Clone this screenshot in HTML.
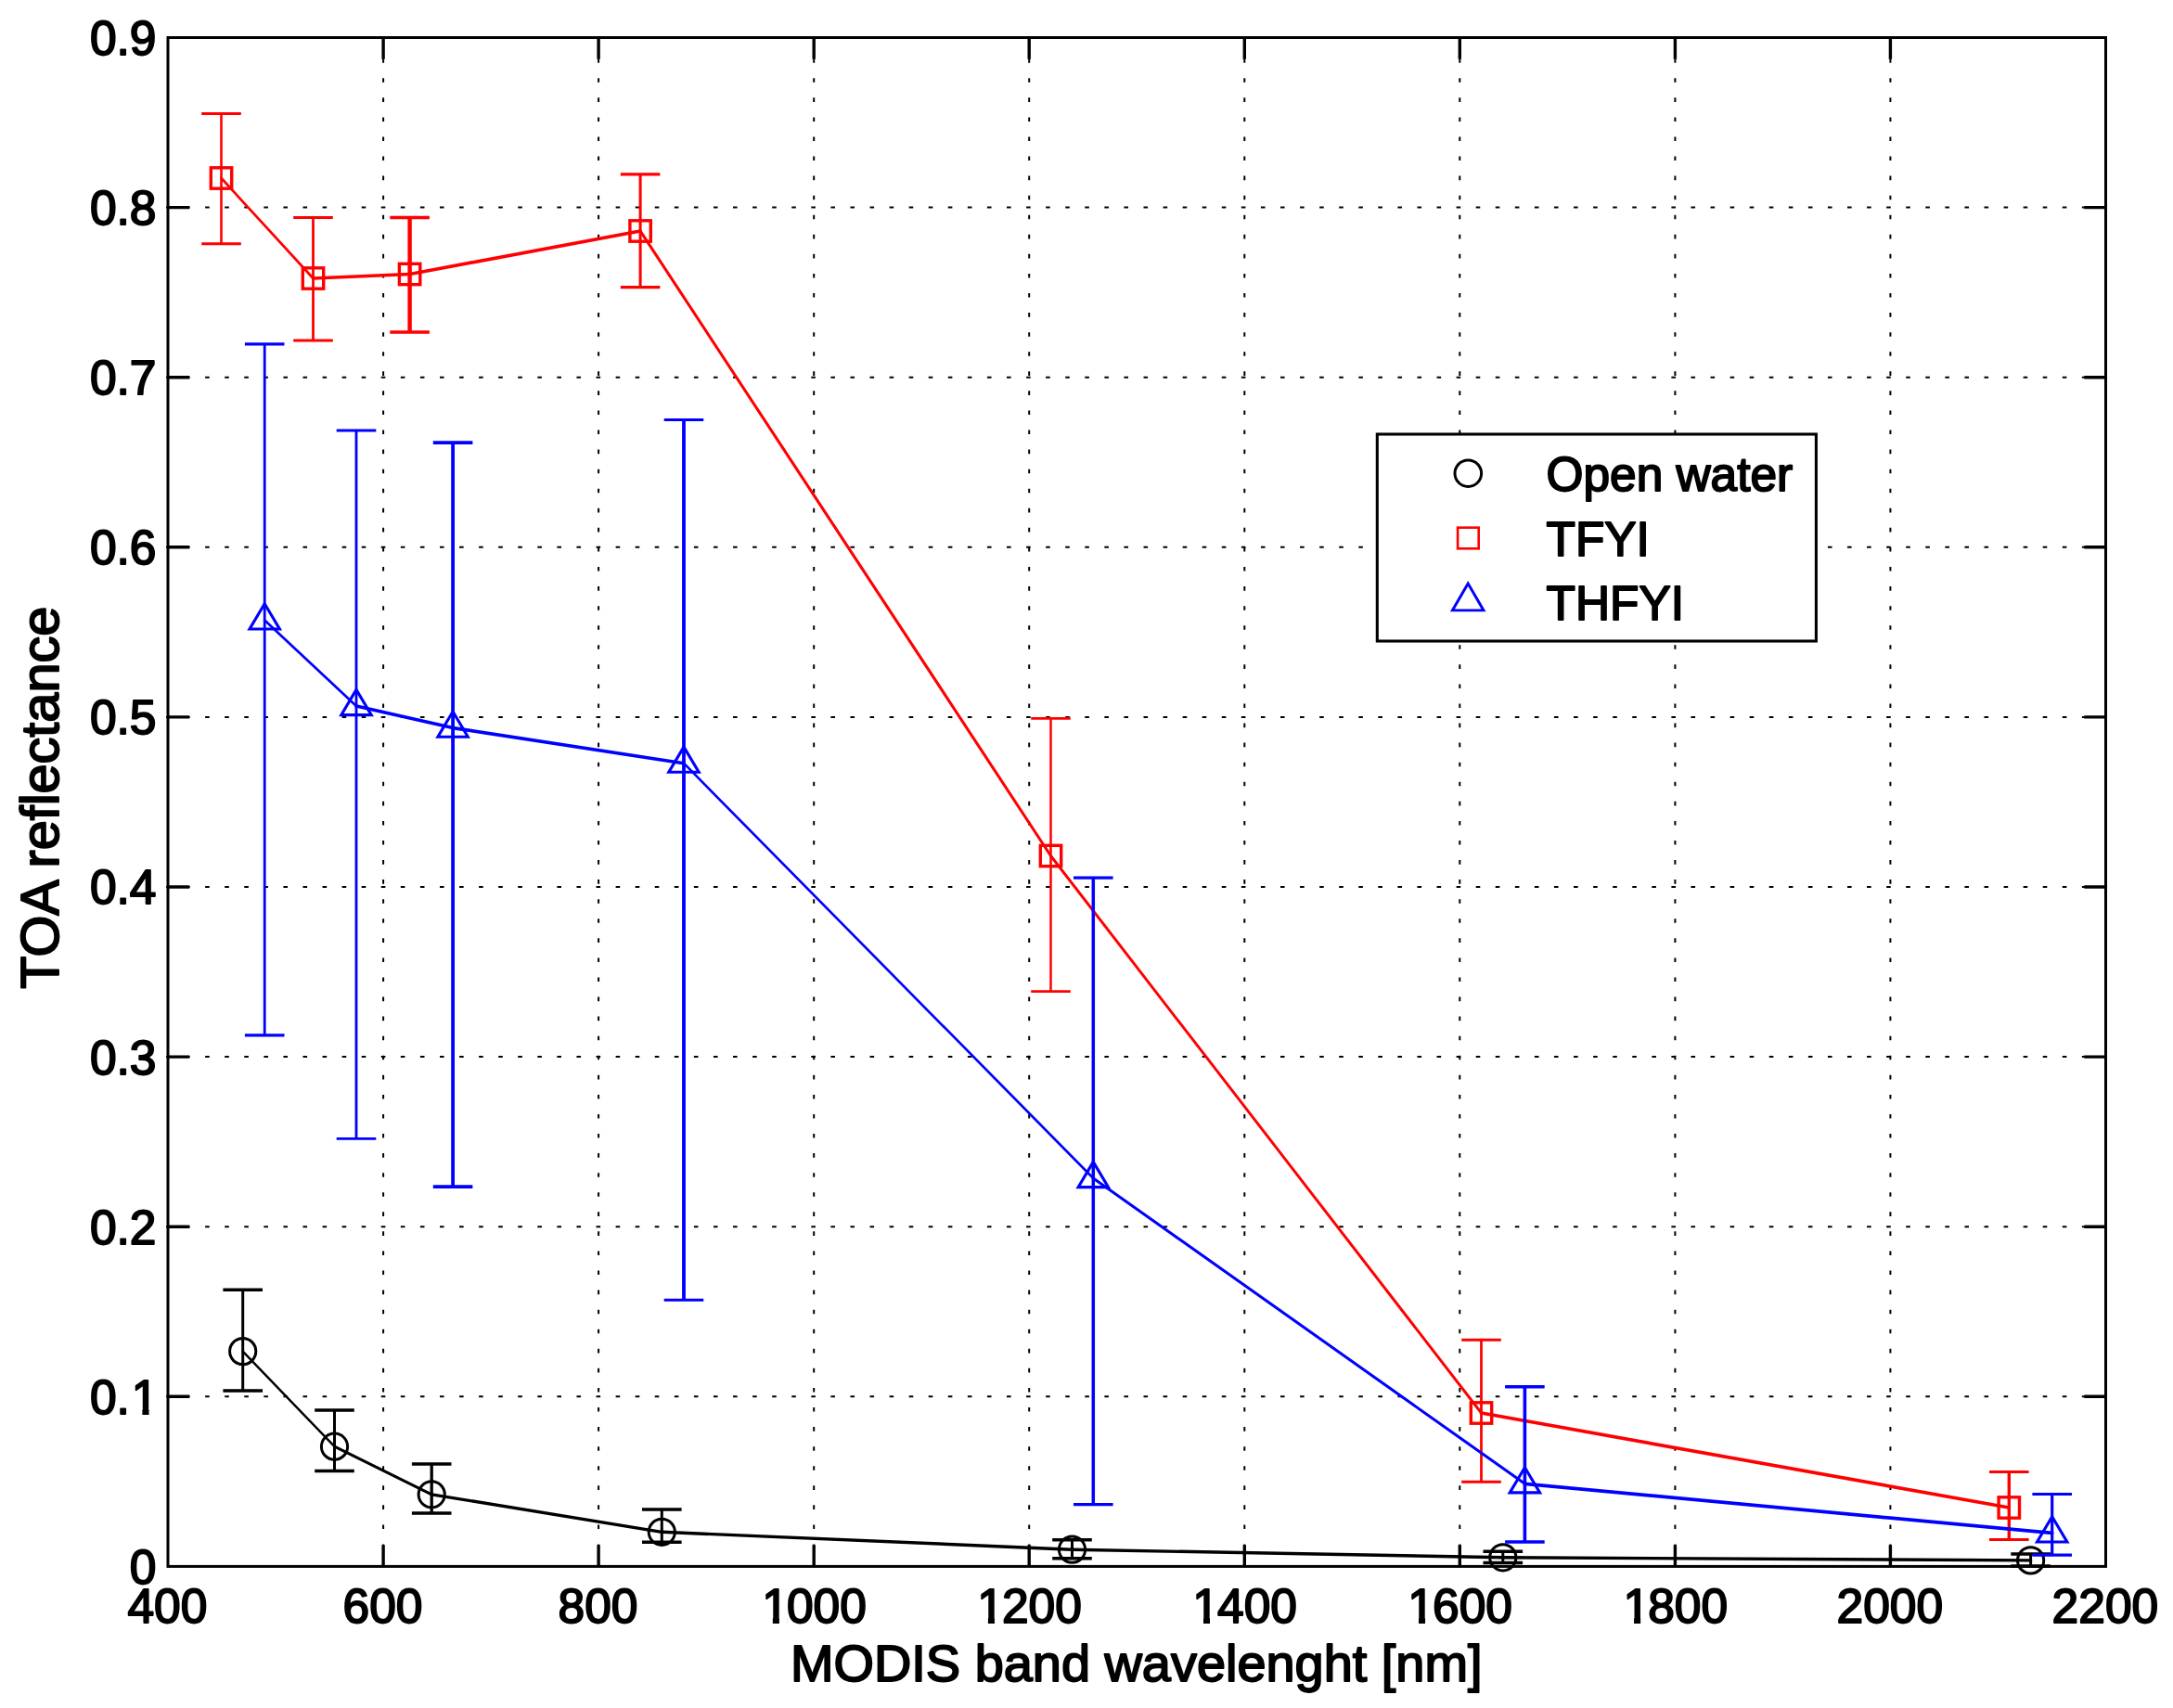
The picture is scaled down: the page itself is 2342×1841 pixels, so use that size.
<!DOCTYPE html>
<html lang="en"><head><meta charset="utf-8"><title>TOA reflectance vs MODIS band wavelength</title>
<style>html,body{margin:0;padding:0;background:#fff;}body{width:2342px;height:1841px;overflow:hidden;}svg{display:block;}text{font-family:"Liberation Sans",Arial,Helvetica,sans-serif;fill:#000;stroke:#000;stroke-width:1.9px;stroke-linejoin:round;}</style></head><body>
<svg width="2342" height="1841" viewBox="0 0 2342 1841">
<rect x="0" y="0" width="2342" height="1841" fill="#fff"/>
<g stroke="#000" stroke-width="2" stroke-dasharray="4.6 16.47" fill="none">
<line x1="413.1" y1="42.1" x2="413.1" y2="1688.4"/>
<line x1="645.1" y1="42.1" x2="645.1" y2="1688.4"/>
<line x1="877.2" y1="42.1" x2="877.2" y2="1688.4"/>
<line x1="1109.2" y1="42.1" x2="1109.2" y2="1688.4"/>
<line x1="1341.3" y1="42.1" x2="1341.3" y2="1688.4"/>
<line x1="1573.3" y1="42.1" x2="1573.3" y2="1688.4"/>
<line x1="1805.4" y1="42.1" x2="1805.4" y2="1688.4"/>
<line x1="2037.4" y1="42.1" x2="2037.4" y2="1688.4"/>
<line x1="179.0" y1="1505.3" x2="2269.5" y2="1505.3"/>
<line x1="179.0" y1="1322.2" x2="2269.5" y2="1322.2"/>
<line x1="179.0" y1="1139.1" x2="2269.5" y2="1139.1"/>
<line x1="179.0" y1="956.0" x2="2269.5" y2="956.0"/>
<line x1="179.0" y1="772.9" x2="2269.5" y2="772.9"/>
<line x1="179.0" y1="589.8" x2="2269.5" y2="589.8"/>
<line x1="179.0" y1="406.7" x2="2269.5" y2="406.7"/>
<line x1="179.0" y1="223.6" x2="2269.5" y2="223.6"/>
</g>
<g stroke="#000" fill="none" stroke-width="3.4">
<line x1="261.7" y1="1456.6" x2="360.5" y2="1559.2" stroke-width="2.45" stroke-linecap="round"/>
<line x1="360.5" y1="1559.2" x2="465.2" y2="1610.8" stroke-width="3.05" stroke-linecap="round"/>
<line x1="465.2" y1="1610.8" x2="713.3" y2="1651.3" stroke-width="3.36" stroke-linecap="round"/>
<line x1="713.3" y1="1651.3" x2="1155.5" y2="1670.2" stroke-width="3.40" stroke-linecap="round"/>
<line x1="1155.5" y1="1670.2" x2="1619.8" y2="1678.8" stroke-width="3.40" stroke-linecap="round"/>
<line x1="1619.8" y1="1678.8" x2="2188.6" y2="1681.9" stroke-width="3.40" stroke-linecap="round"/>
<path stroke-width="3.0" d="M261.7 1390.3V1499.0"/><path stroke-width="3.5" d="M240.4 1390.3H283.0M240.4 1499.0H283.0"/>
<path stroke-width="3.0" d="M360.5 1520.0V1585.5"/><path stroke-width="3.5" d="M339.2 1520.0H381.8M339.2 1585.5H381.8"/>
<path stroke-width="3.3" d="M465.2 1578.0V1631.1"/><path stroke-width="3.5" d="M443.9 1578.0H486.5M443.9 1631.1H486.5"/>
<path stroke-width="3.0" d="M713.3 1626.9V1662.3"/><path stroke-width="3.5" d="M692.0 1626.9H734.6M692.0 1662.3H734.6"/>
<path stroke-width="3.0" d="M1155.5 1659.7V1679.8"/><path stroke-width="3.5" d="M1134.2 1659.7H1176.8M1134.2 1679.8H1176.8"/>
<path stroke-width="3.0" d="M1619.8 1672.3V1684.4"/><path stroke-width="3.5" d="M1598.5 1672.3H1641.1M1598.5 1684.4H1641.1"/>
<path stroke-width="3.0" d="M2188.6 1675.1V1688.0"/><path stroke-width="3.5" d="M2167.3 1675.1H2209.9M2167.3 1688.0H2209.9"/>
</g>
<g stroke="#000" fill="none" stroke-width="3.0">
<circle cx="261.7" cy="1456.6" r="14.1"/>
<circle cx="360.5" cy="1559.2" r="14.1"/>
<circle cx="465.2" cy="1610.8" r="14.1"/>
<circle cx="713.3" cy="1651.3" r="14.1"/>
<circle cx="1155.5" cy="1670.2" r="14.1"/>
<circle cx="1619.8" cy="1678.8" r="14.1"/>
<circle cx="2188.6" cy="1681.9" r="14.1"/>
</g>
<g stroke="#f00" fill="none" stroke-width="3.7">
<line x1="238.5" y1="192.0" x2="337.5" y2="300.0" stroke-width="2.73" stroke-linecap="round"/>
<line x1="337.5" y1="300.0" x2="441.6" y2="295.5" stroke-width="3.70" stroke-linecap="round"/>
<line x1="441.6" y1="295.5" x2="690.1" y2="249.0" stroke-width="3.64" stroke-linecap="round"/>
<line x1="690.1" y1="249.0" x2="1132.5" y2="922.5" stroke-width="3.09" stroke-linecap="round"/>
<line x1="1132.5" y1="922.5" x2="1596.5" y2="1523.0" stroke-width="2.93" stroke-linecap="round"/>
<line x1="1596.5" y1="1523.0" x2="2165.3" y2="1625.0" stroke-width="3.64" stroke-linecap="round"/>
<path stroke-width="2.6" d="M238.5 122.5V262.8"/><path stroke-width="3.0" d="M217.2 122.5H259.8M217.2 262.8H259.8"/>
<path stroke-width="2.8" d="M337.5 234.5V367.0"/><path stroke-width="3.0" d="M316.2 234.5H358.8M316.2 367.0H358.8"/>
<path stroke-width="4.4" d="M441.6 234.5V358.0"/><path stroke-width="3.4" d="M420.3 234.5H462.9M420.3 358.0H462.9"/>
<path stroke-width="3.0" d="M690.1 187.9V309.6"/><path stroke-width="3.4" d="M668.8 187.9H711.4M668.8 309.6H711.4"/>
<path stroke-width="2.5" d="M1132.5 774.3V1068.7"/><path stroke-width="2.8" d="M1111.2 774.3H1153.8M1111.2 1068.7H1153.8"/>
<path stroke-width="2.8" d="M1596.5 1444.3V1597.3"/><path stroke-width="3.0" d="M1575.2 1444.3H1617.8M1575.2 1597.3H1617.8"/>
<path stroke-width="3.4" d="M2165.3 1586.5V1659.6"/><path stroke-width="3.0" d="M2144.0 1586.5H2186.6M2144.0 1659.6H2186.6"/>
</g>
<g stroke="#f00" fill="none" stroke-width="3.4">
<rect x="227.3" y="180.8" width="22.4" height="22.4"/>
<rect x="326.3" y="288.8" width="22.4" height="22.4"/>
<rect x="430.4" y="284.3" width="22.4" height="22.4"/>
<rect x="678.9" y="237.8" width="22.4" height="22.4"/>
<rect x="1121.3" y="911.3" width="22.4" height="22.4"/>
<rect x="1585.3" y="1511.8" width="22.4" height="22.4"/>
<rect x="2154.1" y="1613.8" width="22.4" height="22.4"/>
</g>
<g stroke="#00f" fill="none" stroke-width="3.7">
<line x1="285.2" y1="668.4" x2="384.0" y2="761.0" stroke-width="2.70" stroke-linecap="round"/>
<line x1="384.0" y1="761.0" x2="488.1" y2="784.6" stroke-width="3.61" stroke-linecap="round"/>
<line x1="488.1" y1="784.6" x2="737.0" y2="822.7" stroke-width="3.66" stroke-linecap="round"/>
<line x1="737.0" y1="822.7" x2="1178.3" y2="1270.0" stroke-width="2.63" stroke-linecap="round"/>
<line x1="1178.3" y1="1270.0" x2="1643.4" y2="1599.3" stroke-width="3.02" stroke-linecap="round"/>
<line x1="1643.4" y1="1599.3" x2="2211.7" y2="1652.4" stroke-width="3.68" stroke-linecap="round"/>
<path stroke-width="2.8" d="M285.2 370.9V1115.9"/><path stroke-width="3.4" d="M263.9 370.9H306.5M263.9 1115.9H306.5"/>
<path stroke-width="2.8" d="M384.0 464.0V1227.4"/><path stroke-width="2.8" d="M362.7 464.0H405.3M362.7 1227.4H405.3"/>
<path stroke-width="3.8" d="M488.1 477.1V1279.1"/><path stroke-width="3.6" d="M466.8 477.1H509.4M466.8 1279.1H509.4"/>
<path stroke-width="3.8" d="M737.0 452.5V1401.2"/><path stroke-width="3.0" d="M715.7 452.5H758.3M715.7 1401.2H758.3"/>
<path stroke-width="3.5" d="M1178.3 946.1V1621.7"/><path stroke-width="3.3" d="M1157.0 946.1H1199.6M1157.0 1621.7H1199.6"/>
<path stroke-width="3.6" d="M1643.4 1494.8V1662.0"/><path stroke-width="3.4" d="M1622.1 1494.8H1664.7M1622.1 1662.0H1664.7"/>
<path stroke-width="3.2" d="M2211.7 1610.5V1676.1"/><path stroke-width="3.2" d="M2190.4 1610.5H2233.0M2190.4 1676.1H2233.0"/>
</g>
<g stroke="#00f" fill="none" stroke-width="3.1">
<path d="M285.2 650.8L301.4 678.0H269.0Z"/>
<path d="M384.0 743.4L400.2 770.6H367.8Z"/>
<path d="M488.1 767.0L504.3 794.2H471.9Z"/>
<path d="M737.0 805.1L753.2 832.3H720.8Z"/>
<path d="M1178.3 1252.4L1194.5 1279.6H1162.1Z"/>
<path d="M1643.4 1581.7L1659.6 1608.9H1627.2Z"/>
<path d="M2211.7 1634.8L2227.9 1662.0H2195.5Z"/>
</g>
<g stroke="#000" stroke-width="3.0" fill="none" stroke-linecap="butt">
<rect x="181.0" y="40.5" width="2088.5" height="1647.9"/>
<path stroke-width="3.4" d="M413.1 40.5v23.2M413.1 1688.4v-23.2M645.1 40.5v23.2M645.1 1688.4v-23.2M877.2 40.5v23.2M877.2 1688.4v-23.2M1109.2 40.5v23.2M1109.2 1688.4v-23.2M1341.3 40.5v23.2M1341.3 1688.4v-23.2M1573.3 40.5v23.2M1573.3 1688.4v-23.2M1805.4 40.5v23.2M1805.4 1688.4v-23.2M2037.4 40.5v23.2M2037.4 1688.4v-23.2M181.0 1505.3h23.2M2269.5 1505.3h-23.2M181.0 1322.2h23.2M2269.5 1322.2h-23.2M181.0 1139.1h23.2M2269.5 1139.1h-23.2M181.0 956.0h23.2M2269.5 956.0h-23.2M181.0 772.9h23.2M2269.5 772.9h-23.2M181.0 589.8h23.2M2269.5 589.8h-23.2M181.0 406.7h23.2M2269.5 406.7h-23.2M181.0 223.6h23.2M2269.5 223.6h-23.2"/>
</g>
<defs><clipPath id="one"><path clip-rule="evenodd" d="M-120 -70H220V24H-120ZM0 -5.6H11.7V3H0ZM18.7 -5.6H27.6V3H18.7Z"/></clipPath></defs>
<g font-size="51.5">
<text x="180.4" y="1749.2" text-anchor="middle">400</text>
<text x="412.5" y="1749.2" text-anchor="middle">600</text>
<text x="644.5" y="1749.2" text-anchor="middle">800</text>
<g transform="translate(821.18 1749.2)"><text x="-1.90" y="0" clip-path="url(#one)"><tspan dx="1.9">1</tspan><tspan dx="-1.9">000</tspan></text></g>
<g transform="translate(1053.23 1749.2)"><text x="-1.90" y="0" clip-path="url(#one)"><tspan dx="1.9">1</tspan><tspan dx="-1.9">200</tspan></text></g>
<g transform="translate(1285.29 1749.2)"><text x="-1.90" y="0" clip-path="url(#one)"><tspan dx="1.9">1</tspan><tspan dx="-1.9">400</tspan></text></g>
<g transform="translate(1517.34 1749.2)"><text x="-1.90" y="0" clip-path="url(#one)"><tspan dx="1.9">1</tspan><tspan dx="-1.9">600</tspan></text></g>
<g transform="translate(1749.40 1749.2)"><text x="-1.90" y="0" clip-path="url(#one)"><tspan dx="1.9">1</tspan><tspan dx="-1.9">800</tspan></text></g>
<text x="2036.8" y="1749.2" text-anchor="middle">2000</text>
<text x="2268.9" y="1749.2" text-anchor="middle">2200</text>
<text x="168.5" y="1706.8" text-anchor="end">0</text>
<g transform="translate(141.76 1523.7)"><text x="-44.85" y="0" clip-path="url(#one)"><tspan>0.</tspan><tspan dx="1.9">1</tspan></text></g>
<text x="168.5" y="1340.6" text-anchor="end">0.2</text>
<text x="168.5" y="1157.5" text-anchor="end">0.3</text>
<text x="168.5" y="974.4" text-anchor="end">0.4</text>
<text x="168.5" y="791.3" text-anchor="end">0.5</text>
<text x="168.5" y="608.2" text-anchor="end">0.6</text>
<text x="168.5" y="425.1" text-anchor="end">0.7</text>
<text x="168.5" y="242.0" text-anchor="end">0.8</text>
<text x="168.5" y="58.9" text-anchor="end">0.9</text>
</g>
<text x="1224.7" y="1811.8" font-size="55.9" text-anchor="middle">MODIS band wavelenght [nm]</text>
<text transform="translate(63.2 859.7) rotate(-90)" font-size="57.6" text-anchor="middle">TOA reflectance</text>
<rect x="1484.3" y="468" width="473.1" height="223" fill="#fff" stroke="#000" stroke-width="3.1"/>
<circle cx="1582.3" cy="510.2" r="14.3" fill="none" stroke="#000" stroke-width="3"/>
<rect x="1571.1" y="568.7" width="22.6" height="22.6" fill="none" stroke="#f00" stroke-width="2.6"/>
<path d="M1582.2 628.9L1599 657.9H1565.4Z" fill="none" stroke="#00f" stroke-width="2.9"/>
<g font-size="51.4">
<text x="1666.5" y="529">Open water</text>
<text x="1666.5" y="598.7">TFYI</text>
<text x="1666.5" y="667.8">THFYI</text>
</g>
</svg></body></html>
